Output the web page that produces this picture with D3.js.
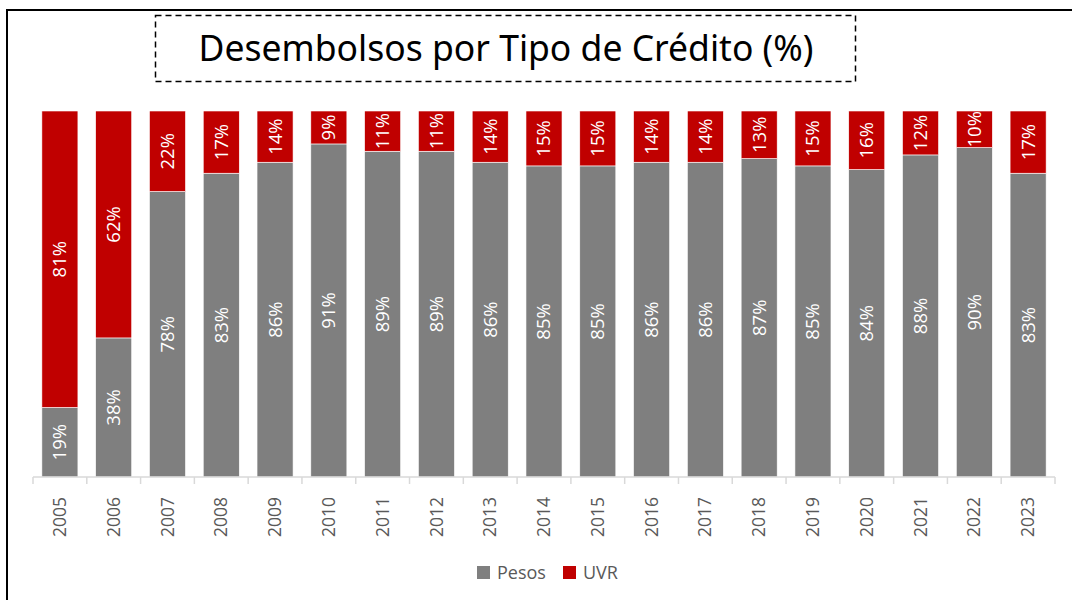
<!DOCTYPE html>
<html>
<head>
<meta charset="utf-8">
<script src="https://cdn.jsdelivr.net/npm/d3@7"></script>
<style>
  body { margin: 0; background: #fff; }
  svg { display: block; font-family: 'Open Sans', sans-serif; }
</style>
</head>
<body>
<svg width="1072" height="600"></svg>
<script>
const years = ['2005','2006','2007','2008','2009','2010','2011','2012','2013','2014','2015','2016','2017','2018','2019','2020','2021','2022','2023'];
const pesos = [19, 38, 78, 83, 86, 91, 89, 89, 86, 85, 85, 86, 86, 87, 85, 84, 88, 90, 83];
const uvr = [81, 62, 22, 17, 14, 9, 11, 11, 14, 15, 15, 14, 14, 13, 15, 16, 12, 10, 17];
const seriesNames = ['Pesos', 'UVR'];
const colors = ['#7f7f7f', '#c00000'];

const svg = d3.select('svg');
const width = +svg.attr('width');
const height = +svg.attr('height');

svg.append('rect').attr('width', width).attr('height', height).attr('fill', '#fff');

// outer frame (only left and top visible in the reference)
svg.append('rect')
    .attr('x', 7).attr('y', 10)
    .attr('width', 1200).attr('height', 800)
    .attr('fill', 'none').attr('stroke', '#000').attr('stroke-width', 2);

// title box
svg.append('rect')
    .attr('x', 155.5).attr('y', 15.5)
    .attr('width', 700).attr('height', 66)
    .attr('fill', 'none').attr('stroke', '#000').attr('stroke-width', 1.5)
    .attr('stroke-dasharray', '6,4');

svg.append('text')
    .attr('x', 506).attr('y', 61)
    .attr('text-anchor', 'middle')
    .attr('font-family', 'Noto Sans, sans-serif')
    .attr('font-size', 35.5)
    .attr('fill', '#000')
    .text('Desembolsos por Tipo de Crédito (%)');

const margin = { top: 111, left: 33, right: 1072 - 1055, bottom: 600 - 477 };
const innerWidth = width - margin.left - margin.right;
const innerHeight = height - margin.top - margin.bottom;

const data = years.map((y, i) => ({ year: y, Pesos: pesos[i], UVR: uvr[i] }));
const stacked = d3.stack().keys(seriesNames)(data);

const xScale = d3.scaleBand()
    .domain(years)
    .range([0, innerWidth])
    .paddingInner(0.33)
    .paddingOuter(0.165);

const yScale = d3.scaleLinear()
    .domain([0, 100])
    .range([innerHeight, 0]);

const g = svg.append('g')
    .attr('transform', `translate(${margin.left},${margin.top})`);

const layers = g.selectAll('.layer').data(stacked)
    .enter().append('g')
    .attr('class', 'layer')
    .attr('fill', (d, i) => colors[i]);

layers.selectAll('rect').data(d => d)
    .enter().append('rect')
    .attr('x', d => xScale(d.data.year))
    .attr('y', d => yScale(d[1]))
    .attr('width', xScale.bandwidth())
    .attr('height', d => yScale(d[0]) - yScale(d[1]))
    .attr('stroke', '#fff')
    .attr('stroke-width', 0.6);

layers.selectAll('text').data(d => d)
    .enter().append('text')
    .attr('transform', d => {
        const cx = xScale(d.data.year) + xScale.bandwidth() / 2;
        const cy = (yScale(d[0]) + yScale(d[1])) / 2;
        return `translate(${cx},${cy}) rotate(-90)`;
    })
    .attr('text-anchor', 'middle')
    .attr('dy', '0.35em')
    .attr('fill', '#fff')
    .attr('font-size', 18.5)
    .text(d => `${d[1] - d[0]}%`);

// x axis: line with ticks between categories
const axis = g.append('g').attr('transform', `translate(0,${innerHeight})`);
axis.append('line')
    .attr('x1', 0).attr('x2', innerWidth)
    .attr('stroke', '#d9d9d9').attr('stroke-width', 1.5);
axis.selectAll('.tick').data(d3.range(years.length + 1))
    .enter().append('line')
    .attr('x1', i => i * innerWidth / years.length)
    .attr('x2', i => i * innerWidth / years.length)
    .attr('y1', 0).attr('y2', 7)
    .attr('stroke', '#d9d9d9').attr('stroke-width', 1.5);
axis.selectAll('.lbl').data(years)
    .enter().append('text')
    .attr('transform', d => `translate(${xScale(d) + xScale.bandwidth() / 2},20) rotate(-90)`)
    .attr('text-anchor', 'end')
    .attr('dy', '0.35em')
    .attr('fill', '#595959')
    .attr('font-size', 17.5)
    .text(d => d);

// legend
const legend = svg.append('g').attr('transform', 'translate(477,566)');
const legendX = [0, 86];
seriesNames.forEach((name, i) => {
    const item = legend.append('g').attr('transform', `translate(${legendX[i]},0)`);
    item.append('rect').attr('width', 13).attr('height', 13).attr('fill', colors[i]);
    item.append('text')
        .attr('x', 20).attr('y', 7)
        .attr('dy', '0.35em')
        .attr('fill', '#595959')
        .attr('font-size', 18)
        .text(name);
});
</script>
</body>
</html>
